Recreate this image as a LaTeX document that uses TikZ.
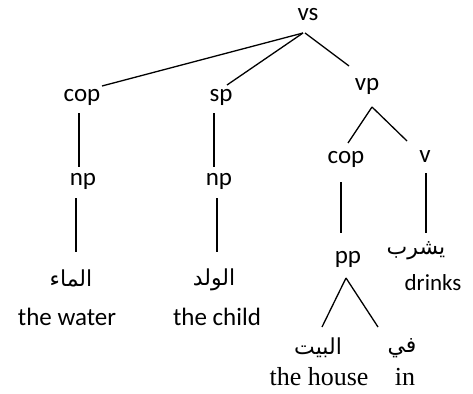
\documentclass[tikz,border=0pt]{standalone}
\usepackage{fontspec}
\setmainfont{Carlito}
\newfontfamily\arabicfont[Script=Arabic]{DejaVu Sans}
\newfontfamily\glossserif{Liberation Serif}
\TeXXeTstate=1

\begin{document}
\begin{tikzpicture}[
  x=1pt, y=-1pt,
  cat/.style={anchor=base, inner sep=0pt, font=\fontsize{25}{30}\selectfont},
  word/.style={anchor=base, inner sep=0pt, font=\fontsize{22}{26}\selectfont\arabicfont},
  gloss/.style={anchor=base, inner sep=0pt, font=\fontsize{25}{30}\selectfont},
  sgloss/.style={anchor=base, inner sep=0pt, font=\fontsize{26}{30}\selectfont\glossserif},
  edge/.style={line width=1.3pt}
]
\useasboundingbox (0,0) rectangle (473,393);

% Categories
\node[cat] (vs) at (308,21) {vs};
\node[cat] (copA) at (82,102) {cop};
\node[cat] (sp) at (221,102) {sp};
\node[cat] (vp) at (367,91) {vp};
\node[cat] (npA) at (83,185) {np};
\node[cat] (npB) at (219,185) {np};
\node[cat] (copB) at (346,163) {cop};
\node[cat] (v) at (425,162) {v};
\node[cat] (pp) at (348,263) {pp};

% Words and glosses
\node[word] (water) at (71,286) {\beginR الماء\endR};
\node[gloss] (waterG) at (67,325) {the water};
\node[word] (child) at (214,285) {\beginR الولد\endR};
\node[gloss] (childG) at (217,325) {the child};
\node[word] (drink) at (416,254) {\beginR يشرب\endR};
\node[gloss, font=\fontsize{23}{26}\selectfont] (drinkG) at (433,290) {drinks};
\node[word] (house) at (318,354) {\beginR البيت\endR};
\node[sgloss] (houseG) at (319,385) {the house};
\node[word] (fi) at (402,352) {\beginR في\endR};
\node[sgloss] (fiG) at (405,385) {in};

% Branches
\draw[edge] ([xshift=-5pt,yshift=-12pt]vs.base) -- ([xshift=20pt,yshift=16pt]copA.base);
\draw[edge] ([xshift=-5pt,yshift=-12pt]vs.base) -- ([xshift=6pt,yshift=17pt]sp.base);
\draw[edge] ([xshift=-3pt,yshift=-12pt]vs.base) -- ([xshift=-18pt,yshift=25pt]vp.base);
\draw[edge] ([xshift=-3pt,yshift=-11pt]copA.base) -- ([xshift=-4pt,yshift=18pt]npA.base);
\draw[edge] ([xshift=-7pt,yshift=-13pt]npA.base) -- ([xshift=5pt,yshift=34pt]water.base);
\draw[edge] ([xshift=-7pt,yshift=-11pt]sp.base) -- ([xshift=-5pt,yshift=18pt]npB.base);
\draw[edge] ([xshift=-2pt,yshift=-13pt]npB.base) -- ([xshift=3pt,yshift=33pt]child.base);
\draw[edge] ([xshift=5pt,yshift=-16pt]vp.base) -- ([xshift=2pt,yshift=20pt]copB.base);
\draw[edge] ([xshift=5pt,yshift=-16pt]vp.base) -- ([xshift=-18pt,yshift=21pt]v.base);
\draw[edge] ([xshift=-5pt,yshift=-19pt]copB.base) -- ([xshift=-7pt,yshift=30pt]pp.base);
\draw[edge] ([xshift=1pt,yshift=-11pt]v.base) -- ([xshift=10pt,yshift=21pt]drink.base);
\draw[edge] ([xshift=-2pt,yshift=-15pt]pp.base) -- ([xshift=4pt,yshift=27pt]house.base);
\draw[edge] ([xshift=-2pt,yshift=-15pt]pp.base) -- ([xshift=-24pt,yshift=25pt]fi.base);

\end{tikzpicture}
\end{document}
